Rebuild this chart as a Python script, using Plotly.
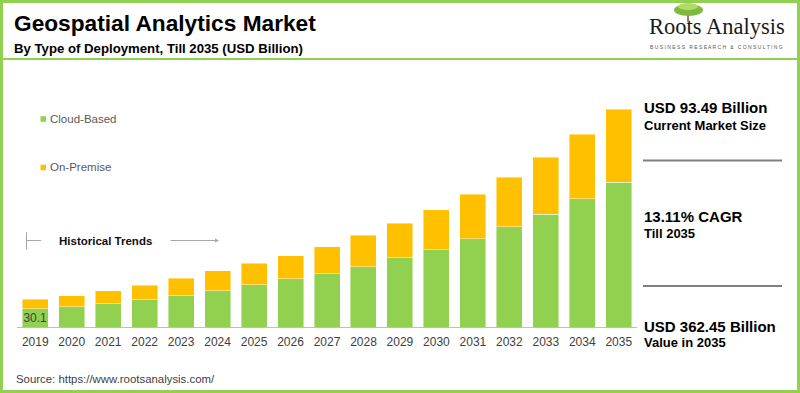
import plotly.graph_objects as go

# ---- data ----
years = [str(y) for y in range(2019, 2036)]
cloud_based = [30.1, 34.0, 39.0, 45.6, 52.3, 60.6, 70.0, 80.0, 89.0, 100.5, 115.0, 128.8, 146.6, 167.0, 188.2, 213.7, 241.5]
on_premise = [15.9, 18.3, 21.0, 23.9, 28.5, 32.9, 35.8, 39.0, 45.0, 52.1, 57.6, 66.6, 74.9, 82.8, 94.9, 107.7, 120.95]
cloud_labels = ["30.1"] + [""] * 16
series_names = ["Cloud-Based", "On-Premise"]

GREEN = "#92D050"
YELLOW = "#FFC000"
FONT = "Arial, Liberation Sans, sans-serif"

W, H = 800, 393
ML, MR, MT, MB = 17, 163, 100, 66
PW, PH = W - ML - MR, H - MT - MB


def px(x):
    return (x - ML) / PW


def py(y):
    return (H - MB - y) / PH


fig = go.Figure()
fig.add_trace(go.Bar(
    x=years, y=cloud_based, name=series_names[0], marker_color=GREEN,
    marker_line=dict(color="rgba(255,255,255,0.55)", width=0.8),
    text=cloud_labels, textposition="inside", insidetextanchor="middle",
    constraintext="none", textangle=0,
    textfont=dict(family=FONT, size=12, color="#404040"),
))
fig.add_trace(go.Bar(
    x=years, y=on_premise, name=series_names[1], marker_color=YELLOW,
    marker_line=dict(color="rgba(255,255,255,0.55)", width=0.8),
))

shapes = []
# outer border
shapes.append(dict(type="rect", xref="paper", yref="paper",
                   x0=px(1.5), x1=px(798.5), y0=py(1.5), y1=py(391.5),
                   line=dict(color=GREEN, width=3), fillcolor="rgba(0,0,0,0)", layer="above"))
# title underline
shapes.append(dict(type="line", xref="paper", yref="paper",
                   x0=px(3), x1=px(797), y0=py(59), y1=py(59),
                   line=dict(color=GREEN, width=2)))
# legend squares
for yy, col in [(119, GREEN), (167.5, YELLOW)]:
    shapes.append(dict(type="rect", xref="paper", yref="paper",
                       x0=px(40.5), x1=px(46), y0=py(yy - 2.75), y1=py(yy + 2.75),
                       line=dict(width=0), fillcolor=col))
# historical trends marker
shapes.append(dict(type="line", xref="paper", yref="paper",
                   x0=px(26.5), x1=px(26.5), y0=py(232.5), y1=py(249.5),
                   line=dict(color="#a6a6a6", width=1)))
shapes.append(dict(type="line", xref="paper", yref="paper",
                   x0=px(26.5), x1=px(41), y0=py(240.5), y1=py(240.5),
                   line=dict(color="#a6a6a6", width=1)))
# right panel separators
for yy in [160.5, 286]:
    shapes.append(dict(type="line", xref="paper", yref="paper",
                       x0=px(643), x1=px(782), y0=py(yy), y1=py(yy),
                       line=dict(color="#808080", width=2)))
# logo tree
shapes.append(dict(type="line", xref="paper", yref="paper",
                   x0=px(688), x1=px(688), y0=py(12), y1=py(22),
                   line=dict(color="#8a8a6a", width=2)))
shapes.append(dict(type="circle", xref="paper", yref="paper",
                   x0=px(674), x1=px(703), y0=py(4), y1=py(16),
                   line=dict(width=0), fillcolor="#7dbb3c"))
shapes.append(dict(type="circle", xref="paper", yref="paper",
                   x0=px(678), x1=px(698), y0=py(3), y1=py(10),
                   line=dict(width=0), fillcolor="#b5d96a"))

annotations = []


def add_text(x, y, text, size, color="#000000", bold=False, anchor="left", family=FONT):
    annotations.append(dict(
        xref="paper", yref="paper", x=px(x), y=py(y), text=("<b>%s</b>" % text) if bold else text,
        showarrow=False, xanchor=anchor, yanchor="middle",
        font=dict(family=family, size=size, color=color)))


add_text(12, 23.5, "Geospatial Analytics Market", 22.7, "#000000", bold=True)
add_text(12, 48, "By Type of Deployment, Till 2035 (USD Billion)", 13.2, "#000000", bold=True)
add_text(716.5, 27, "Roots Analysis", 22.5, "#1a1a1a", anchor="center", family="Liberation Serif, Times New Roman, serif")
add_text(716, 47, "B U S I N E S S   R E S E A R C H   &   C O N S U L T I N G", 5, "#555555", anchor="center")

add_text(48, 119, series_names[0], 11.5, "#595959")
add_text(48, 167, series_names[1], 11.5, "#595959")
add_text(57, 240.5, "Historical Trends", 11.5, "#111111", bold=True)
annotations.append(dict(xref="paper", yref="paper", x=px(219), y=py(240.5),
                        ax=-50, ay=0, axref="pixel", ayref="pixel",
                        showarrow=True, arrowhead=2, arrowsize=0.8, arrowwidth=1,
                        arrowcolor="#a6a6a6", text=""))

add_text(642, 107.5, "USD 93.49 Billion", 15, "#000000", bold=True)
add_text(642, 125, "Current Market Size", 13, "#000000", bold=True)
add_text(642, 216.5, "13.11% CAGR", 15, "#000000", bold=True)
add_text(642, 233.5, "Till 2035", 13, "#000000", bold=True)
add_text(642, 326.5, "USD 362.45 Billion", 15, "#000000", bold=True)
add_text(642, 342.5, "Value in 2035", 13, "#000000", bold=True)

add_text(14, 379, "Source: https://www.rootsanalysis.com/", 11.4, "#404040")

fig.update_layout(
    width=W, height=H,
    margin=dict(l=ML, r=MR, t=MT, b=MB, pad=0),
    barmode="stack", bargap=0.287,
    showlegend=False,
    plot_bgcolor="white", paper_bgcolor="white",
    shapes=shapes, annotations=annotations,
    font=dict(family=FONT),
)
fig.update_xaxes(type="category", showline=True, linecolor="#bfbfbf", linewidth=1,
                 ticks="", showgrid=False, automargin=False, ticklabelstandoff=4,
                 tickfont=dict(family=FONT, size=12, color="#404040"))
fig.update_yaxes(range=[0, PH / 0.6004], visible=False, showgrid=False, automargin=False)

fig.write_html("out.html", config={"displayModeBar": False},
               post_script="document.body.style.margin='0';")
